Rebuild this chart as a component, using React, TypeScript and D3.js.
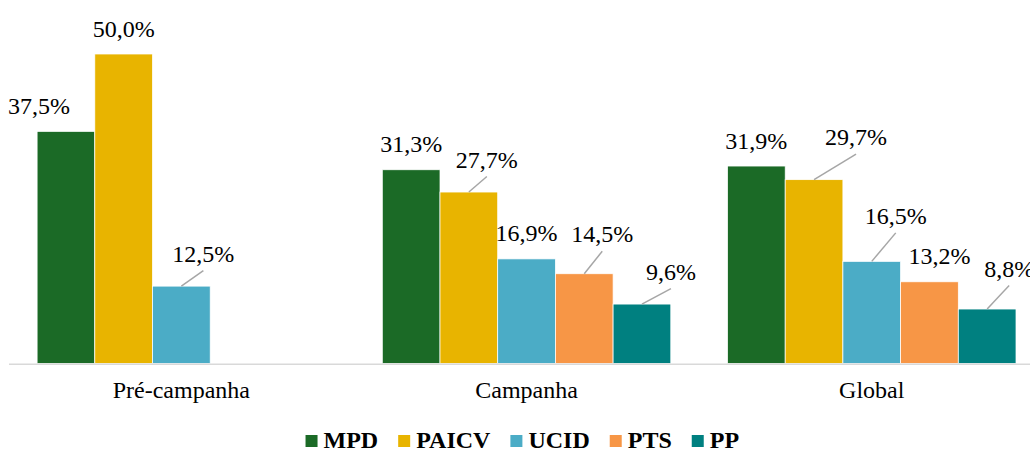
import React from "react";
import * as d3 from "d3";

const categories = ["Pré-campanha", "Campanha", "Global"];
const seriesNames = ["MPD", "PAICV", "UCID", "PTS", "PP"];
const mpdValues = [37.5, 31.3, 31.9];
const paicvValues = [50.0, 27.7, 29.7];
const ucidValues = [12.5, 16.9, 16.5];
const ptsValues: (number | null)[] = [null, 14.5, 13.2];
const ppValues: (number | null)[] = [null, 9.6, 8.8];
const seriesValues = [mpdValues, paicvValues, ucidValues, ptsValues, ppValues];
const colors = ["#1b6a26", "#e8b400", "#4bacc6", "#f79646", "#008080"];

// manual label displacements (as moved in the original), [category][series] -> [dx, dy, leader]
const labelOffsets: [number, number, boolean][][] = [
  [[-27, 0, false], [0, 0, false], [22, -7, true], [0, 0, false], [0, 0, false]],
  [[0, 0, false], [18, -7, true], [0, 0, false], [18, -14, true], [29, -7, true]],
  [[0, 0, false], [42, -17, true], [24, -20, true], [10, 0, false], [22, -15, true]],
];

const W = 1030;
const H = 451;
const FONT = "'Liberation Serif', 'Times New Roman', Times, serif";
const FS = 24;

function fmt(v: number) {
  return v.toFixed(1).replace(".", ",") + "%";
}

function measure(text: string, font: string) {
  const c = document.createElement("canvas");
  const ctx = c.getContext("2d");
  if (!ctx) return text.length * 13;
  ctx.font = font;
  return ctx.measureText(text).width;
}

export default function App() {
  const baseY = 363.5;
  const x0 = d3.scaleBand<string>().domain(categories).range([8.75, 8.75 + 3 * 345.2]).padding(0);
  const step = x0.bandwidth();
  const groupW = 288.5;
  const x1 = d3
    .scaleBand<string>()
    .domain(seriesNames)
    .range([(step - groupW) / 2, (step + groupW) / 2])
    .padding(0);
  const y = d3.scaleLinear().domain([0, 50]).range([baseY, 54]);

  const bars: React.ReactNode[] = [];
  const labels: React.ReactNode[] = [];
  categories.forEach((cat, ci) => {
    seriesNames.forEach((s, si) => {
      const v = seriesValues[si][ci];
      if (v === null || v === undefined) return;
      const bx = (x0(cat) || 0) + (x1(s) || 0);
      const bw = x1.bandwidth();
      const top = y(v);
      bars.push(
        <rect
          key={`b-${ci}-${si}`}
          x={bx}
          y={top}
          width={bw}
          height={baseY - top}
          fill={colors[si]}
          stroke="#ffffff"
          strokeWidth={0.75}
        />
      );
      const [dx, dy, leader] = labelOffsets[ci][si];
      const cx = bx + bw / 2;
      const lx = cx + dx;
      const ly = top - 17.5 + dy;
      if (leader) {
        labels.push(
          <line
            key={`l-${ci}-${si}`}
            x1={cx}
            y1={top}
            x2={lx}
            y2={ly + 9}
            stroke="#a6a6a6"
            strokeWidth={1.5}
          />
        );
      }
      labels.push(
        <text
          key={`t-${ci}-${si}`}
          x={lx}
          y={ly}
          textAnchor="middle"
          fontFamily={FONT}
          fontSize={FS}
          fill="#000"
        >
          {fmt(v)}
        </text>
      );
    });
  });

  // legend layout
  const legendFont = `bold ${FS}px ${FONT}`;
  const sq = 12;
  const gapSqText = 6;
  const gapItems = 20;
  const widths = seriesNames.map((n) => measure(n, legendFont));
  const total =
    widths.reduce((a, w) => a + sq + gapSqText + w, 0) + gapItems * (seriesNames.length - 1);
  let lxPos = 522.3 - total / 2;
  const legendItems = seriesNames.map((n, i) => {
    const startX = lxPos;
    lxPos += sq + gapSqText + widths[i] + gapItems;
    return (
      <g key={`lg-${n}`}>
        <rect x={startX} y={435} width={sq} height={sq} fill={colors[i]} />
        <text
          x={startX + sq + gapSqText}
          y={448.3}
          fontFamily={FONT}
          fontWeight="bold"
          fontSize={FS}
          fill="#000"
        >
          {n}
        </text>
      </g>
    );
  });

  return (
    <svg
      width={W}
      height={H}
      style={{ position: "absolute", left: 0, top: 0, background: "#fff" }}
    >
      <rect x={0} y={0} width={W} height={H} fill="#fff" />
      {bars}
      <line x1={9} x2={W} y1={baseY + 0.75} y2={baseY + 0.75} stroke="#d9d9d9" strokeWidth={1.5} />
      {labels}
      {categories.map((c) => (
        <text
          key={`c-${c}`}
          x={(x0(c) || 0) + step / 2}
          y={398.3}
          textAnchor="middle"
          fontFamily={FONT}
          fontSize={FS}
          fill="#000"
        >
          {c}
        </text>
      ))}
      {legendItems}
    </svg>
  );
}
